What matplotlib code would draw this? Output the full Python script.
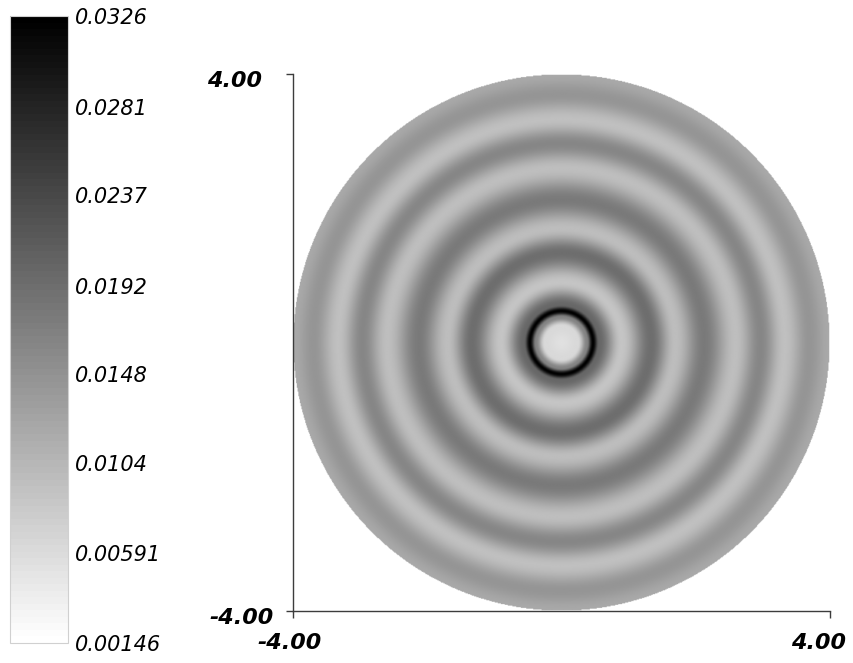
import numpy as np
import matplotlib
matplotlib.use("Agg")
import matplotlib.pyplot as plt
import matplotlib.transforms as mtransforms
from matplotlib.colors import ListedColormap
from matplotlib.cm import ScalarMappable
from matplotlib.colors import Normalize

# radial profile: ring radius -> value (extrema)
ring_radius = [0.00, 0.25, 0.38, 0.47, 0.56, 0.90, 1.34, 1.70, 2.13, 2.60, 2.97, 3.33, 3.70, 4.00]
ring_value = [0.0052, 0.0062, 0.0165, 0.0326, 0.0200, 0.0086, 0.0192, 0.0095, 0.0177,
              0.0094, 0.0162, 0.0092, 0.0144, 0.0120]

cbar_ticks = [0.0326, 0.0281, 0.0237, 0.0192, 0.0148, 0.0104, 0.00591, 0.00146]
cbar_labels = ["0.0326", "0.0281", "0.0237", "0.0192", "0.0148", "0.0104", "0.00591", "0.00146"]
vmin, vmax = 0.00146, 0.0326

axis_ticks = [-4, 4]
axis_labels = ["-4.00", "4.00"]


def radial_field(r):
    # smooth (cosine) blend between the read-off extrema
    out = np.full(r.shape, np.nan)
    for r0, r1, v0, v1 in zip(ring_radius[:-1], ring_radius[1:], ring_value[:-1], ring_value[1:]):
        m = (r >= r0) & (r <= r1)
        t = (r[m] - r0) / (r1 - r0)
        out[m] = v0 + (v1 - v0) * (1 - np.cos(np.pi * t)) / 2
    return out


n = 700
xs = np.linspace(-4, 4, n)
X, Y = np.meshgrid(xs, xs)
R = np.hypot(X, Y)
Z = np.ma.masked_invalid(radial_field(R))

W, H = 854, 663
fig = plt.figure(figsize=(W / 100, H / 100), dpi=100)
ax = fig.add_axes([293 / W, 1 - 612 / H, 537 / W, 539 / H])
cax = fig.add_axes([10 / W, 1 - 643 / H, 58 / W, 627 / H])

cmap = plt.get_cmap("gray_r").copy()
cmap.set_bad("white")
im = ax.imshow(Z, extent=[-4, 4, -4, 4], origin="lower", cmap=cmap,
               vmin=vmin, vmax=vmax, interpolation="bilinear")
ax.set_xlim(-4, 4)
ax.set_ylim(-4, 4)

for s in ["top", "right"]:
    ax.spines[s].set_visible(False)
for s in ["left", "bottom"]:
    ax.spines[s].set_color("#3c3c3c")
    ax.spines[s].set_linewidth(1.0)

ax.set_xticks(axis_ticks)
ax.set_yticks(axis_ticks)
ax.set_xticklabels(axis_labels)
ax.set_yticklabels(axis_labels)
ax.tick_params(direction="out", length=5, width=1.0, color="#3c3c3c")
ax.tick_params(axis="x", pad=11)
ax.tick_params(axis="y", pad=9)
for lab in ax.get_xticklabels() + ax.get_yticklabels():
    lab.set_fontsize(16)
    lab.set_fontweight("bold")
    lab.set_fontstyle("oblique")

# nudge tick labels to where they sit in the picture
x_shift = [(-3, 0), (-11, 0)]
y_shift = [(0, -5), (-12, -5)]
for lab, (dx, dy) in zip(ax.get_xticklabels(), x_shift):
    lab.set_transform(lab.get_transform() + mtransforms.ScaledTranslation(dx / 100, dy / 100, fig.dpi_scale_trans))
for lab, (dx, dy) in zip(ax.get_yticklabels(), y_shift):
    lab.set_transform(lab.get_transform() + mtransforms.ScaledTranslation(dx / 100, dy / 100, fig.dpi_scale_trans))

# colour bar with stepped lookup table
band_cmap = ListedColormap(plt.get_cmap("gray_r")(np.linspace(0, 1, 96)))
sm = ScalarMappable(norm=Normalize(vmin, vmax), cmap=band_cmap)
cb = fig.colorbar(sm, cax=cax, ticks=cbar_ticks)
cb.set_ticklabels(cbar_labels)
cb.outline.set_edgecolor("#d0d0d0")
cb.outline.set_linewidth(0.8)
cax.tick_params(length=0, pad=5)
for lab in cax.get_yticklabels():
    lab.set_fontsize(15)
    lab.set_fontstyle("oblique")

fig.savefig("out.png", dpi=100, facecolor="white")
